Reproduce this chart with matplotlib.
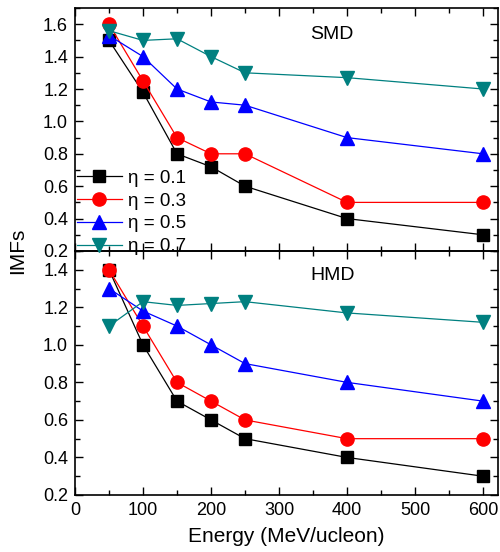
import matplotlib
matplotlib.use("Agg")
import matplotlib.pyplot as plt
from matplotlib.ticker import MultipleLocator

plt.rcParams['font.family'] = ['Liberation Sans', 'DejaVu Sans']

energy = [50, 100, 150, 200, 250, 400, 600]
etas = ["0.1", "0.3", "0.5", "0.7"]

smd = {
    "0.1": [1.50, 1.18, 0.80, 0.72, 0.60, 0.40, 0.30],
    "0.3": [1.60, 1.25, 0.90, 0.80, 0.80, 0.50, 0.50],
    "0.5": [1.53, 1.40, 1.20, 1.12, 1.10, 0.90, 0.80],
    "0.7": [1.56, 1.50, 1.51, 1.40, 1.30, 1.27, 1.20],
}
hmd = {
    "0.1": [1.40, 1.00, 0.70, 0.60, 0.50, 0.40, 0.30],
    "0.3": [1.40, 1.10, 0.80, 0.70, 0.60, 0.50, 0.50],
    "0.5": [1.30, 1.18, 1.10, 1.00, 0.90, 0.80, 0.70],
    "0.7": [1.10, 1.23, 1.21, 1.22, 1.23, 1.17, 1.12],
}

styles = {
    "0.1": dict(color="black", marker="s", ms=9),
    "0.3": dict(color="red", marker="o", ms=9.5),
    "0.5": dict(color="blue", marker="^", ms=10),
    "0.7": dict(color="#008080", marker="v", ms=10),
}

fig = plt.figure(figsize=(5, 5.52), dpi=100)
ax1 = fig.add_axes([0.15, 0.5453, 0.846, 0.4402])
ax2 = fig.add_axes([0.15, 0.1033, 0.846, 0.4420], sharex=ax1)
# keep the top panel (and its legend) above the lower one
ax1.set_zorder(3)
ax1.patch.set_alpha(0)

for ax, data in ((ax1, smd), (ax2, hmd)):
    for eta in etas:
        st = styles[eta]
        ax.plot(energy, data[eta], color=st["color"], marker=st["marker"],
                ms=st["ms"], lw=0.9, label="\u03b7 = " + eta)
    ax.xaxis.set_major_locator(MultipleLocator(100))
    ax.xaxis.set_minor_locator(MultipleLocator(50))
    ax.yaxis.set_major_locator(MultipleLocator(0.2))
    ax.yaxis.set_minor_locator(MultipleLocator(0.1))
    ax.tick_params(which="both", direction="in", top=True, right=True,
                   labelsize=13)
    ax.tick_params(which="major", length=6, width=1, pad=5)
    ax.tick_params(which="minor", length=3.5, width=1)
    for sp in ax.spines.values():
        sp.set_linewidth(1.2)

ax1.set_xlim(0, 622)
ax1.set_ylim(0.2, 1.7)
ax2.set_ylim(0.2, 1.5)
ax1.tick_params(labelbottom=False)
ax1.yaxis.set_major_formatter(plt.FormatStrFormatter("%.1f"))
ax2.yaxis.set_major_formatter(plt.FormatStrFormatter("%.1f"))

ax1.text(0.608, 0.89, "SMD", transform=ax1.transAxes, ha="center",
         va="center", fontsize=14)
ax2.text(0.608, 0.90, "HMD", transform=ax2.transAxes, ha="center",
         va="center", fontsize=14)

ax1.legend(loc="lower left", bbox_to_anchor=(0.0, -0.025), frameon=False,
           fontsize=13.5, handlelength=2.4, handletextpad=0.3,
           labelspacing=0.3, borderaxespad=0.0, borderpad=0.1)

ax2.set_xlabel("Energy (MeV/ucleon)", fontsize=15, labelpad=6)
fig.text(0.035, 0.545, "IMFs", rotation=90, ha="center", va="center",
         fontsize=15)

fig.savefig("out.png", dpi=100)
plt.close(fig)
